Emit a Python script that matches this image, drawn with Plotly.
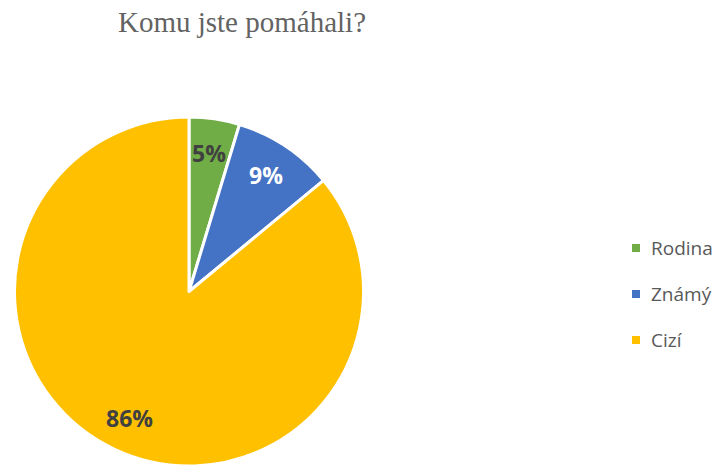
import math
import plotly.graph_objects as go

categories = ["Rodina", "Známý", "Cizí"]
values = [5, 10, 92]
colors = ["#70AD47", "#4472C4", "#FFC000"]
label_colors = ["#404040", "#FFFFFF", "#404040"]
title_text = "Komu jste pomáhali?"

W, H = 718, 466
dom_x = [13 / W, 365 / W]
dom_y = [0, 1 - 117 / H]

fig = go.Figure()
fig.add_trace(go.Pie(
    labels=categories, values=values, sort=False, direction="clockwise", rotation=0,
    marker=dict(colors=colors, line=dict(color="white", width=3)),
    textinfo="none",
    domain=dict(x=dom_x, y=dom_y),
    showlegend=False, hoverinfo="label+percent",
))

# data labels placed along each slice's mid-angle (computed from the values)
total = sum(values)
cx_px = (dom_x[0] + dom_x[1]) / 2 * W
cy_px = H - (dom_y[0] + dom_y[1]) / 2 * H
r_px = min((dom_x[1] - dom_x[0]) * W, (dom_y[1] - dom_y[0]) * H) / 2
cum = 0
for v, lc in zip(values, label_colors):
    mid = (cum + v / 2) / total * 2 * math.pi
    cum += v
    px = cx_px + 0.8 * r_px * math.sin(mid)
    py = cy_px - 0.8 * r_px * math.cos(mid)
    fig.add_annotation(x=px / W, y=1 - py / H, xref="paper", yref="paper",
                       xanchor="center", yanchor="middle",
                       text=f"{round(v / total * 100)}%", showarrow=False,
                       font=dict(family="Open Sans", size=23, color=lc, weight="bold"))

# legend (drawn manually for Excel-like spacing)
leg_y0, leg_step = 248, 46
for i, (c, col) in enumerate(zip(categories, colors)):
    yc = leg_y0 + i * leg_step
    fig.add_shape(type="rect", xref="paper", yref="paper",
                  x0=632 / W, x1=640 / W, y0=1 - (yc + 4) / H, y1=1 - (yc - 4) / H,
                  fillcolor=col, line=dict(width=0))
    fig.add_annotation(x=649 / W, y=1 - yc / H, xref="paper", yref="paper",
                       xanchor="left", yanchor="middle", text=c, showarrow=False,
                       font=dict(family="Open Sans", size=19, color="#595959"))

fig.update_layout(
    width=W, height=H, margin=dict(l=0, r=0, t=0, b=0),
    paper_bgcolor="white", plot_bgcolor="white",
    showlegend=False,
    title=dict(text=title_text, x=242 / W, xanchor="center", y=1 - 22 / H, yanchor="middle",
               font=dict(family="Liberation Serif", size=29, color="#636363")),
)
fig.write_html("out.html", config={"displayModeBar": False},
               post_script="document.body.style.margin='0';document.body.style.overflow='hidden';")
